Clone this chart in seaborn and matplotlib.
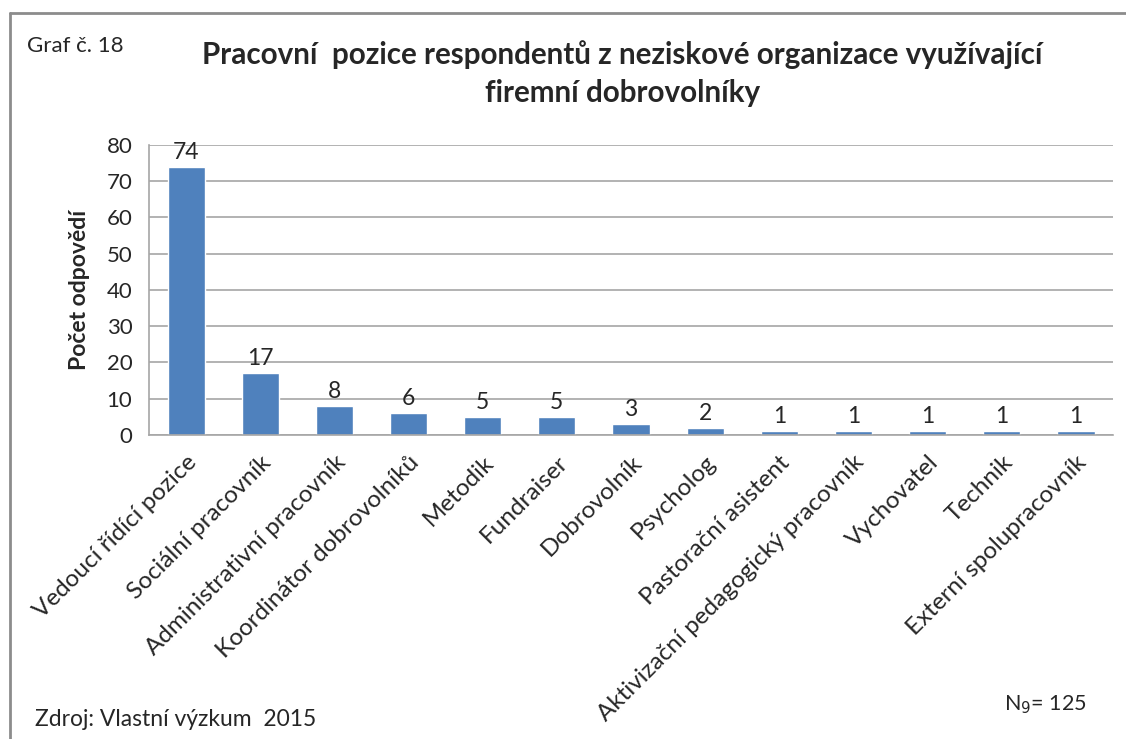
import pandas as pd
import seaborn as sns
import matplotlib.pyplot as plt
from matplotlib.lines import Line2D

pozice = ["Vedoucí řídící pozice", "Sociální pracovník", "Administrativní pracovník",
          "Koordinátor dobrovolníků", "Metodik", "Fundraiser", "Dobrovolník",
          "Psycholog", "Pastorační asistent", "Aktivizační pedagogický pracovník",
          "Vychovatel", "Technik", "Externí spolupracovník"]
pocet = [74, 17, 8, 6, 5, 5, 3, 2, 1, 1, 1, 1, 1]
y_ticks = [0, 10, 20, 30, 40, 50, 60, 70, 80]

df = pd.DataFrame({"pozice": pozice, "pocet": pocet})

sns.set_style("white")
plt.rcParams['font.family'] = ['Lato', 'DejaVu Sans']

fig = plt.figure(figsize=(11.26, 7.39), dpi=100)
ax = fig.add_axes([0.1323, 0.4114, 0.8562, 0.3924])

sns.barplot(data=df, x="pozice", y="pocet", color="#4F81BD", width=0.5,
            saturation=1, ax=ax)
ax.bar_label(ax.containers[0], fontsize=16.5, padding=3)

ax.set_ylim(0, 80)
ax.set_xlim(-0.5, len(pozice) - 0.5)
ax.set_yticks(y_ticks)
ax.tick_params(axis="y", labelsize=16, length=0, pad=12)
ax.tick_params(axis="x", labelsize=17.5, length=0, pad=12)
plt.setp(ax.get_xticklabels(), rotation=45, ha="right", rotation_mode="anchor")
ax.yaxis.grid(True, color="#A6A6A6", linewidth=1.2)
ax.set_axisbelow(True)
for s in ["top", "right"]:
    ax.spines[s].set_visible(False)
for s in ["left", "bottom"]:
    ax.spines[s].set_color("#A6A6A6")
    ax.spines[s].set_linewidth(1.2)
ax.set_xlabel("")
ax.set_ylabel("Počet odpovědí", fontsize=16.5, fontweight="bold", labelpad=12)

fig.text(0.553, 0.9005, "Pracovní  pozice respondentů z neziskové organizace využívající\nfiremní dobrovolníky",
         ha="center", va="center", fontsize=21.3, fontweight="bold", linespacing=1.45)
fig.text(0.024, 0.938, "Graf č. 18", fontsize=16, va="center")
fig.text(0.031, 0.026, "Zdroj: Vlastní výzkum  2015", fontsize=16.5, va="center")
fig.text(0.892, 0.046, r"N$_9$= 125", fontsize=15.5, va="center")

# chart frame
fig.add_artist(Line2D([10 / 1126, 1], [1 - 13 / 739, 1 - 13 / 739], color="#8C8C8C", linewidth=2))
fig.add_artist(Line2D([10 / 1126, 10 / 1126], [0, 1 - 13 / 739], color="#8C8C8C", linewidth=2))

plt.savefig("out.png", dpi=100)
